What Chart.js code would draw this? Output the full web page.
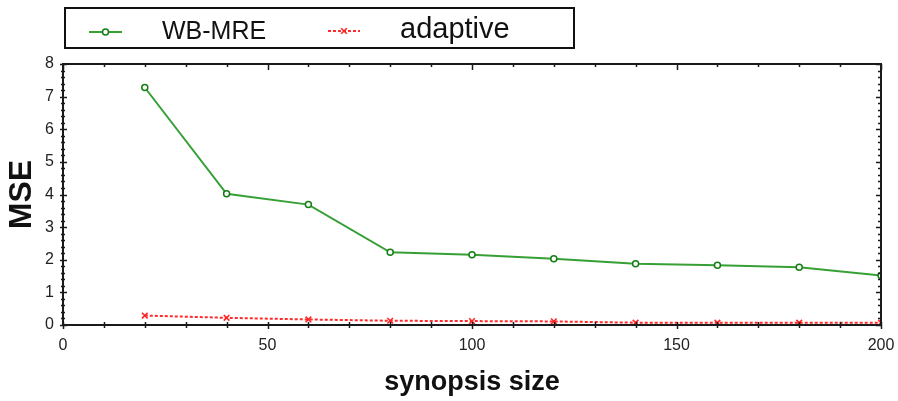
<!DOCTYPE html>
<html>
<head>
<meta charset="utf-8">
<script src="https://cdn.jsdelivr.net/npm/chart.js@4"></script>
<style>
  html, body { margin: 0; padding: 0; background: #fff; }
  #wrap { width: 898px; height: 401px; }
</style>
</head>
<body>
<div id="wrap"><canvas id="mseChart" width="898" height="401"></canvas></div>
<script>
// values
const synopsisSizes = [20, 40, 60, 80, 100, 120, 140, 160, 180, 200];
const wbMreMse = [7.28, 4.02, 3.69, 2.23, 2.15, 2.03, 1.88, 1.83, 1.77, 1.52];
const adaptiveMse = [0.29, 0.22, 0.17, 0.13, 0.12, 0.11, 0.07, 0.07, 0.07, 0.07];
const xTickLabels = [0, 50, 100, 150, 200];
const yTickLabels = [0, 1, 2, 3, 4, 5, 6, 7, 8];
const seriesNames = ['WB-MRE', 'adaptive'];

const toPoints = (ys) => synopsisSizes.map((x, i) => ({ x: x, y: ys[i] }));

// draws the box frame and the small in/out ticks on all four sides
const frameTicks = {
  id: 'frameTicks',
  afterDatasetsDraw(chart) {
    const { ctx, chartArea: a, scales } = chart;
    const xs = scales.x, ys = scales.y;
    ctx.save();
    ctx.strokeStyle = '#1a1a1a';
    ctx.lineWidth = 1.5;
    ctx.beginPath();
    for (let v = 0; v <= 200; v += 10) {
      const px = Math.round(xs.getPixelForValue(v)) + 0.5;
      const big = v % 50 === 0;
      ctx.moveTo(px, a.bottom - 3); ctx.lineTo(px, a.bottom + (big ? 4 : 3));
      ctx.moveTo(px, a.top); ctx.lineTo(px, a.top + (big ? 6 : 3));
    }
    for (let i = 0; i <= 40; i++) {
      const py = Math.round(ys.getPixelForValue(i / 5)) + 0.5;
      const big = i % 5 === 0;
      ctx.moveTo(a.left - (big ? 3 : 2), py); ctx.lineTo(a.left + (big ? 4 : 2), py);
      ctx.moveTo(a.right - (big ? 5 : 3), py); ctx.lineTo(a.right, py);
    }
    ctx.stroke();
    ctx.lineWidth = 2;
    ctx.strokeRect(a.left, a.top, a.right - a.left, a.bottom - a.top);
    ctx.restore();
  }
};

// boxed legend above the plot, as in the figure
const boxLegend = {
  id: 'boxLegend',
  afterDraw(chart) {
    const { ctx } = chart;
    const ds = chart.data.datasets;
    ctx.save();
    ctx.strokeStyle = '#111';
    ctx.lineWidth = 2;
    ctx.strokeRect(65, 8, 509, 40);

    const items = [
      { d: ds[0], x1: 89, x2: 122, y: 32, tx: 162, ty: 39, font: '25px "Liberation Sans", Arial, sans-serif' },
      { d: ds[1], x1: 328, x2: 360, y: 31, tx: 400, ty: 38, font: '29px "Liberation Sans", Arial, sans-serif' }
    ];
    items.forEach(it => {
      const d = it.d;
      const cx = (it.x1 + it.x2) / 2;
      ctx.strokeStyle = d.borderColor;
      ctx.lineWidth = d.borderWidth;
      ctx.setLineDash(d.borderDash || []);
      ctx.beginPath();
      ctx.moveTo(it.x1, it.y); ctx.lineTo(it.x2, it.y);
      ctx.stroke();
      ctx.setLineDash([]);
      ctx.strokeStyle = d.pointBorderColor;
      ctx.fillStyle = d.pointBackgroundColor;
      ctx.lineWidth = d.pointBorderWidth;
      Chart.helpers.drawPoint(ctx, {
        pointStyle: d.pointStyle, radius: d.pointRadius, borderWidth: d.pointBorderWidth, rotation: 0
      }, cx, it.y);
      ctx.fillStyle = '#111';
      ctx.font = it.font;
      ctx.textBaseline = 'alphabetic';
      ctx.textAlign = 'left';
      ctx.fillText(d.label, it.tx, it.ty);
    });
    ctx.restore();
  }
};

new Chart(document.getElementById('mseChart'), {
  type: 'line',
  data: {
    datasets: [
      {
        label: seriesNames[0],
        data: toPoints(wbMreMse),
        borderColor: '#36a036',
        borderWidth: 2,
        pointStyle: 'circle',
        pointRadius: 3,
        pointBorderWidth: 1.5,
        pointBorderColor: '#137f13',
        pointBackgroundColor: '#ffffff',
        tension: 0,
        fill: false
      },
      {
        label: seriesNames[1],
        data: toPoints(adaptiveMse),
        borderColor: '#ff2b2b',
        borderWidth: 2,
        borderDash: [3, 2],
        pointStyle: 'crossRot',
        pointRadius: 4,
        pointBorderWidth: 1.5,
        pointBorderColor: '#ff2020',
        pointBackgroundColor: '#ff2020',
        tension: 0,
        fill: false
      }
    ]
  },
  options: {
    responsive: false,
    animation: false,
    layout: { padding: { top: 64, right: 17, left: 0, bottom: 0 } },
    plugins: {
      legend: { display: false },
      tooltip: { enabled: false }
    },
    scales: {
      x: {
        type: 'linear',
        min: 0,
        max: 200,
        grid: { display: false },
        border: { display: false },
        afterFit: (s) => { s.height = 76; s.paddingLeft = 0; s.paddingRight = 0; },
        afterBuildTicks: (s) => { s.ticks = xTickLabels.map(v => ({ value: v })); },
        ticks: {
          padding: 3,
          maxRotation: 0,
          color: '#222',
          font: { family: '"Liberation Sans", Arial, sans-serif', size: 16 }
        },
        title: {
          display: true,
          text: 'synopsis size',
          color: '#111',
          padding: { top: 4, bottom: 2 },
          font: { family: '"Liberation Sans", Arial, sans-serif', size: 27, weight: 'bold' }
        }
      },
      y: {
        min: 0,
        max: 8,
        grid: { display: false },
        border: { display: false },
        afterFit: (s) => { s.width = 63; s.paddingTop = 0; s.paddingBottom = 0; },
        afterBuildTicks: (s) => { s.ticks = yTickLabels.map(v => ({ value: v })); },
        ticks: {
          padding: 1,
          color: '#222',
          font: { family: '"Liberation Sans", Arial, sans-serif', size: 16 }
        },
        title: {
          display: true,
          text: 'MSE',
          color: '#111',
          padding: { top: 3, bottom: 0 },
          font: { family: '"Liberation Sans", Arial, sans-serif', size: 32, weight: 'bold' }
        }
      }
    }
  },
  plugins: [frameTicks, boxLegend]
});
</script>
</body>
</html>
